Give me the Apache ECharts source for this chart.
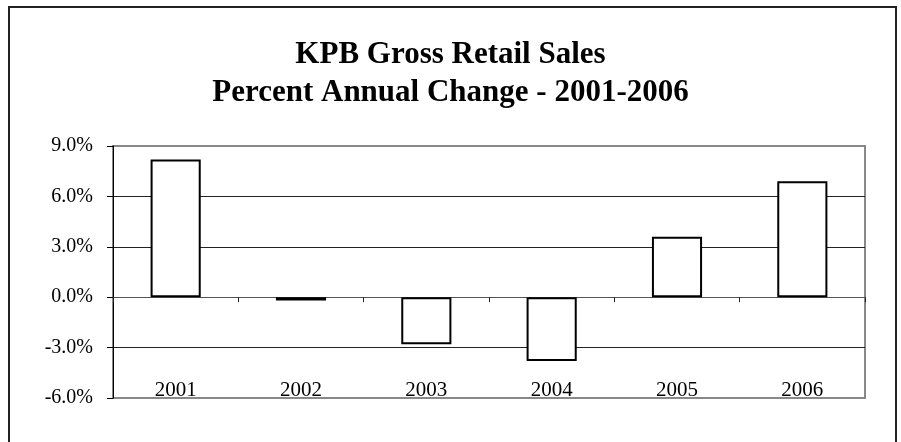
<!DOCTYPE html>
<html>
<head>
<meta charset="utf-8">
<script src="https://cdn.jsdelivr.net/npm/echarts@6/dist/echarts.min.js"></script>
<style>
html,body{margin:0;padding:0;background:#fff;}
#chart{width:901px;height:442px;}
</style>
</head>
<body>
<div id="chart"></div>
<script>
var titleLines = ['KPB Gross Retail Sales', 'Percent Annual Change - 2001-2006'];
var years = ['2001', '2002', '2003', '2004', '2005', '2006'];
var pctChange = [8.2, -0.2, -2.8, -3.8, 3.6, 6.9];
var yMin = -6, yMax = 9, yStep = 3;

var serif = '"Liberation Serif", "Times New Roman", serif';
var chart = echarts.init(document.getElementById('chart'), null, {renderer: 'canvas'});
chart.setOption({
  animation: false,
  backgroundColor: '#fff',
  title: {
    text: titleLines.join('\n'),
    left: 'center',
    top: 31,
    textStyle: {fontFamily: serif, fontSize: 31, fontWeight: 'bold', color: '#000', lineHeight: 38}
  },
  graphic: [{
    type: 'rect',
    shape: {x: 9, y: 7, width: 887, height: 460},
    style: {fill: 'none', stroke: '#222', lineWidth: 2},
    silent: true
  }],
  grid: {
    left: 113, top: 146, width: 752, height: 252,
    show: true, borderColor: '#888', borderWidth: 2, backgroundColor: 'transparent',
    containLabel: false
  },
  xAxis: [{
    type: 'category',
    data: years,
    boundaryGap: true,
    axisLine: {onZero: true, lineStyle: {color: '#555', width: 1}},
    axisTick: {show: true, length: 5, alignWithLabel: false, lineStyle: {color: '#222', width: 1}},
    axisLabel: {show: false},
    splitLine: {show: false}
  }, {
    type: 'category',
    data: years,
    position: 'bottom',
    boundaryGap: true,
    axisLine: {show: false},
    axisTick: {show: false},
    axisLabel: {show: true, inside: true, margin: -3, fontFamily: serif, fontSize: 21, color: '#000'},
    splitLine: {show: false}
  }],
  yAxis: {
    type: 'value',
    min: yMin, max: yMax, interval: yStep,
    axisLine: {show: true, onZero: false, lineStyle: {color: '#000', width: 1}},
    axisTick: {show: true, length: 6, lineStyle: {color: '#000', width: 1}},
    axisLabel: {
      margin: 20, fontFamily: serif, fontSize: 20, color: '#000',
      formatter: function (v) { return v.toFixed(1) + '%'; }
    },
    splitLine: {show: true, lineStyle: {color: ['rgba(0,0,0,0)', '#222', '#666', '#222', '#222', 'rgba(0,0,0,0)'], width: 1}}
  },
  series: [{
    type: 'bar',
    xAxisIndex: 0,
    data: pctChange,
    barWidth: '40%',
    itemStyle: {color: '#fff', borderColor: '#000', borderWidth: 2}
  }]
});
</script>
</body>
</html>
